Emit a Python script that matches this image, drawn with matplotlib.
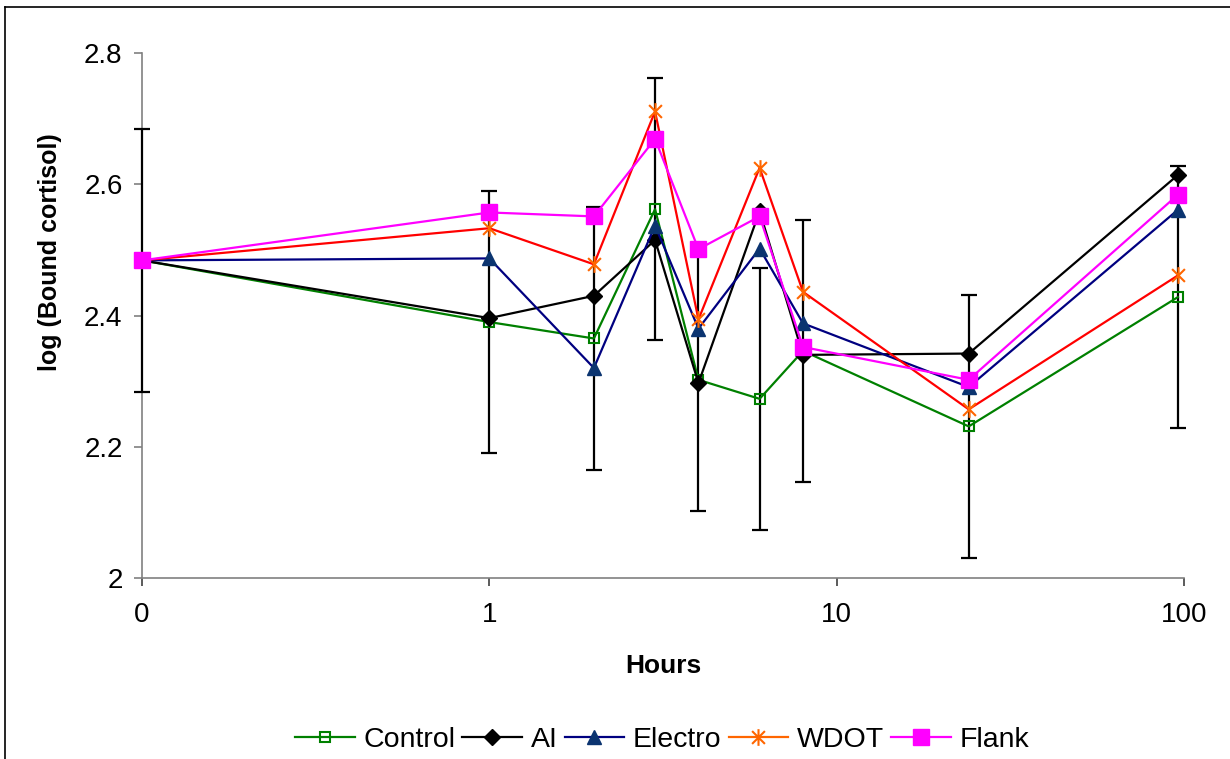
"""
log bound cortisol over time, five treatment groups
"""
import matplotlib
matplotlib.use('Agg')
import matplotlib.pyplot as plt
from matplotlib.path import Path
from matplotlib.lines import Line2D

plt.rcParams['font.family'] = ['Liberation Sans', 'DejaVu Sans']

# sampling times in hours (0 h plotted at 0.1 on the log axis)
hours = [0.1, 1, 2, 3, 4, 6, 8, 24, 96]

control = [2.484, 2.390, 2.365, 2.562, 2.302, 2.273, 2.346, 2.231, 2.428]
ai = [2.484, 2.396, 2.430, 2.515, 2.297, 2.559, 2.340, 2.342, 2.614]
electro = [2.484, 2.487, 2.320, 2.537, 2.380, 2.502, 2.388, 2.291, 2.561]
wdot = [2.484, 2.533, 2.478, 2.711, 2.394, 2.625, 2.436, 2.257, 2.461]
flank = [2.484, 2.557, 2.551, 2.669, 2.501, 2.551, 2.352, 2.302, 2.584]
control_err = [0.2, 0.2, 0.2, 0.2, 0.2, 0.2, 0.2, 0.2, 0.2]

xticks = [0.1, 1, 10, 100]
xticklabels = ['0', '1', '10', '100']
yticks = [2.0, 2.2, 2.4, 2.6, 2.8]
yticklabels = ['2', '2.2', '2.4', '2.6', '2.8']

# excel-like asterisk: an X with a vertical bar
star = Path([(-1, -1), (1, 1), (-1, 1), (1, -1), (0, -1.3), (0, 1.3)],
            [Path.MOVETO, Path.LINETO, Path.MOVETO, Path.LINETO, Path.MOVETO, Path.LINETO])

fig = plt.figure(figsize=(12.3, 7.59), dpi=100)
ax = fig.add_axes([142/1230, 1 - 578/759, (1184 - 142)/1230, (578 - 53)/759])

eb = ax.errorbar(hours, control, yerr=control_err, fmt='none', ecolor='black',
                 elinewidth=1.6, capsize=6, capthick=1.6, zorder=2.8)
for art in list(eb.lines[1]) + list(eb.lines[2]):
    art.set_clip_on(False)

series = [
    ('Control', control, dict(color='#008000', marker='s', ms=7, mfc='none', mec='#008000', mew=1.5)),
    ('AI', ai, dict(color='black', marker='D', ms=8, mfc='black', mec='black')),
    ('Electro', electro, dict(color='#000080', marker='^', ms=10, mfc='#0b3470', mec='#0b3470')),
    ('WDOT', wdot, dict(color='#ff0000', marker=star, ms=12, mfc='none', mec='#ff6600', mew=1.5)),
    ('Flank', flank, dict(color='#ff00ff', marker='s', ms=11, mfc='#ff00ff', mec='#ff00ff')),
]
handles = []
for i, (name, vals, kw) in enumerate(series):
    ax.plot(hours, vals, lw=1.6, zorder=3 + i, clip_on=False, **kw)
    hkw = dict(kw)
    if name == 'WDOT':
        hkw['color'] = '#ff6600'
    handles.append(Line2D([], [], lw=1.6, label=name, **hkw))

ax.set_xscale('log')
ax.set_xlim(0.1, 100)
ax.set_ylim(2.0, 2.8)
ax.set_xticks(xticks)
ax.set_xticklabels(xticklabels)
ax.xaxis.set_minor_locator(matplotlib.ticker.NullLocator())
ax.set_yticks(yticks)
ax.set_yticklabels(yticklabels)

for s in ['top', 'right']:
    ax.spines[s].set_visible(False)
for s in ['left', 'bottom']:
    ax.spines[s].set_color('#808080')
    ax.spines[s].set_linewidth(1.2)
    ax.spines[s].set_zorder(2)

ax.tick_params(axis='x', direction='out', length=6, width=1.2, color='#404040',
               pad=11, labelsize=20)
ax.tick_params(axis='y', direction='out', length=6, width=1.2, color='#808080',
               pad=8, labelsize=20)

ax.set_xlabel('Hours', fontsize=19, fontweight='bold', va='center')
ax.xaxis.set_label_coords(0.5, (578 - 666) / 525)
ax.set_ylabel('log (Bound cortisol)', fontsize=18, fontweight='bold', va='center')
ax.yaxis.set_label_coords((50 - 142) / 1042, (578 - 252) / 525)

fig.legend(handles=handles, loc='center', bbox_to_anchor=(662/1230, 1 - 740/759),
           ncol=5, frameon=False, fontsize=20.5, handlelength=2.1, handletextpad=0.3,
           columnspacing=0.25, borderaxespad=0)

# chart area border (left and top edges visible)
fig.add_artist(Line2D([5/1230, 5/1230], [0, 1 - 7/759], color='black', lw=1.2))
fig.add_artist(Line2D([5/1230, 1], [1 - 7/759, 1 - 7/759], color='black', lw=1.2))

fig.savefig('out.png', dpi=100)
